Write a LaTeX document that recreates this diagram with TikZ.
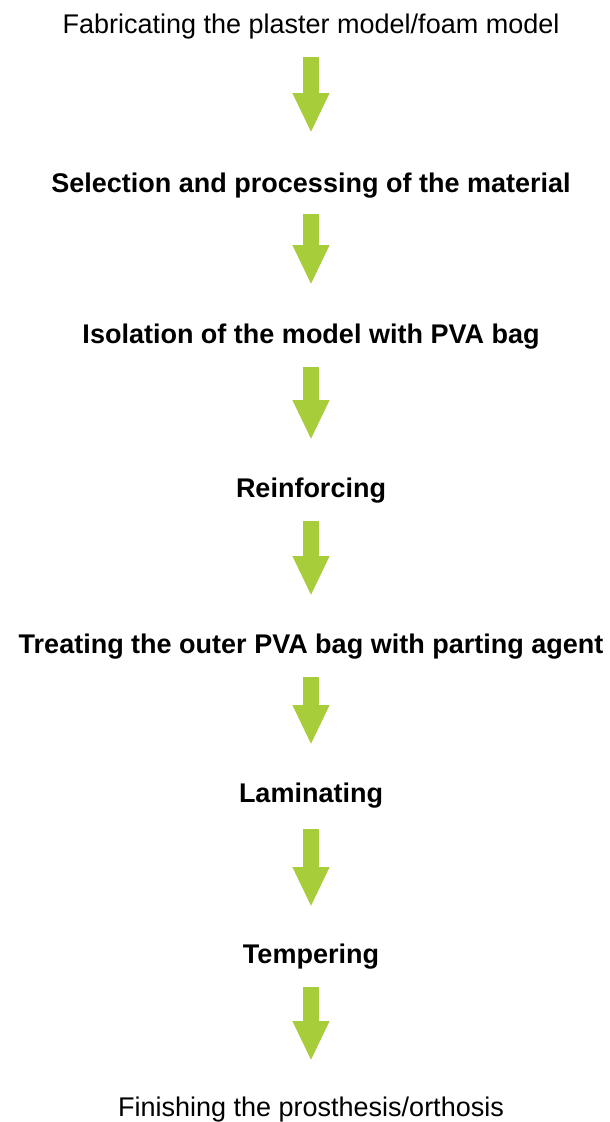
\documentclass[tikz,border=0pt]{standalone}
\usepackage{fontspec}
\setmainfont{Liberation Sans}
\usetikzlibrary{arrows.meta}
\definecolor{flowgreen}{RGB}{168,205,58}
\tikzset{
  stage/.style={anchor=base,inner sep=0pt,font=\fontsize{27}{32}\selectfont},
  stagebold/.style={stage,font=\fontsize{27}{32}\selectfont\bfseries},
  flow/.style={draw=flowgreen,line width=16pt,
    -{Triangle[width=34pt,length=40pt,fill=flowgreen]}}
}
\begin{document}
\begin{tikzpicture}[x=1pt,y=1pt]
  \useasboundingbox (0,0) rectangle (610,-1122);
  \path
    (311,-33) node[stage] (0){Fabricating the plaster model/foam model}
    (311,-192) node[stagebold] (1){Selection and processing of the material}
    (311,-343) node[stagebold] (2){Isolation of the model with PVA bag}
    (311,-497) node[stagebold] (3){Reinforcing}
    (311,-653) node[stagebold] (4){Treating the outer PVA bag with parting agent}
    (311,-802) node[stagebold] (5){Laminating}
    (311,-963) node[stagebold] (6){Tempering}
    (311,-1116) node[stage] (7){Finishing the prosthesis/orthosis};
  \begin{scope}[flow]
    \draw ([yshift=-24pt]0.base) to ([yshift=59pt]1.base);
    \draw ([yshift=-22pt]1.base) to ([yshift=58pt]2.base);
    \draw ([yshift=-24pt]2.base) to ([yshift=57pt]3.base);
    \draw ([yshift=-24pt]3.base) to ([yshift=57pt]4.base);
    \draw ([yshift=-24pt]4.base) to ([yshift=57pt]5.base);
    \draw ([yshift=-27pt]5.base) to ([yshift=56pt]6.base);
    \draw ([yshift=-24pt]6.base) to ([yshift=55pt]7.base);
  \end{scope}
\end{tikzpicture}
\end{document}
